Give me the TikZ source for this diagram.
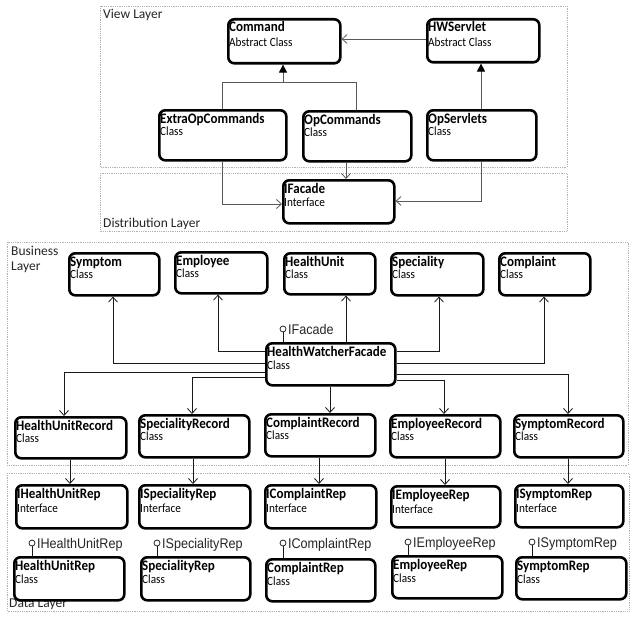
\documentclass[tikz,border=0pt]{standalone}
\usepackage{fontspec}
\newfontfamily\calfont[FakeStretch=0.9]{Carlito}
\newfontfamily\laufont{Carlito}
\newfontfamily\arifont[FakeStretch=0.9]{Liberation Sans}
\usetikzlibrary{arrows.meta}
\tikzset{
 box/.style={draw=black, line width=2.6pt, rounded corners=6pt, inner sep=0pt, fill=white},
 ttl/.style={font=\calfont\bfseries\fontsize{14.5}{16}\selectfont, inner sep=0pt},
 sub/.style={font=\calfont\fontsize{12.5}{14}\selectfont, inner sep=0pt},
 layer/.style={draw=black!30, densely dotted, line width=0.8pt},
 laytxt/.style={font=\laufont\fontsize{13.5}{15}\selectfont, text=black!85, inner sep=0pt},
 lolli/.style={font=\arifont\fontsize{14}{16}\selectfont, inner sep=0pt, text=black!85},
 lcirc/.style={circle, draw=black!85, line width=0.8pt, minimum size=6pt, inner sep=0pt},
 conn/.style={line width=0.8pt, draw=black!90},
 vconn/.style={line width=0.8pt, draw=black!65},
 openarr/.style={-{Straight Barb[length=5pt,width=9pt]}},
 genarr/.style={-{Triangle[length=8pt,width=8pt,fill=black,color=black]}},
}
% \umlbox{name}{x}{y}{w}{h}{title}{subtitle}{subtitle offset}
\newcommand{\umlbox}[8]{%
 \node[box, minimum width=#4pt, minimum height=#5pt, anchor=north west] (#1) at (#2,#3) {};
 \node[ttl, anchor=base west] (#1t) at ([xshift=2pt,yshift=-14pt]#1.north west) {#6};
 \node[sub, anchor=base west] (#1s) at ([xshift=2pt,yshift=-#8pt]#1.north west) {#7};
}
\newcommand{\ifbox}[6]{%
 \node[box, minimum width=#4pt, minimum height=#5pt, anchor=north west] (#1) at (#2,#3) {};
 \node[ttl, anchor=base west] (#1t) at ([xshift=2pt,yshift=-14pt]#1.north west) {#6};
 \begin{scope}
  \clip ([xshift=2pt,yshift=-18pt]#1.north west) rectangle ([xshift=-3pt,yshift=-27pt]#1.north east);
  \node[sub, anchor=base west] (#1s) at ([xshift=2pt,yshift=-28.5pt]#1.north west) {Interface};
 \end{scope}
}
\newcommand{\lollipop}[4]{%
 \node[lcirc] (#1) at (#2,#3) {};
 \node[lolli, anchor=base west] (#1t) at ([xshift=1.5pt,yshift=-5.5pt]#1.east) {#4};
}
\begin{document}
\begin{tikzpicture}[x=1pt,y=-1pt]
\useasboundingbox (0,0) rectangle (634,618);
\fill[white] (0,0) rectangle (634,618);

% layers
\draw[layer] (100,6) rectangle (567,167);
\draw[layer] (100,173) rectangle (567,231);
\draw[layer] (7,242) rectangle (628,465);
\draw[layer] (7,473) rectangle (629,611);
\node[laytxt, anchor=base west] (lview) at (103,19) {View Layer};
\node[laytxt, anchor=base west] (ldist) at (103,227) {Distribution Layer};
\node[laytxt, anchor=base west] (lbus1) at (11,255) {Business};
\node[laytxt, anchor=base west] (lbus2) at (11,270) {Layer};
\node[laytxt, anchor=base west] (ldata) at (9,607) {Data Layer};

% view layer
\umlbox{cmd}{227}{18}{112}{44}{Command}{Abstract Class}{29}
\umlbox{hws}{426}{18}{112}{43}{HWServlet}{Abstract Class}{29}
\umlbox{extra}{158}{109}{127}{50}{ExtraOpCommands}{Class}{26}
\umlbox{opc}{302}{110}{108}{50}{OpCommands}{Class}{26}
\umlbox{ops}{426}{109}{109}{50}{OpServlets}{Class}{26}
\umlbox{ifac}{282}{179}{111}{43}{IFacade}{Interface}{27}

% business layer
\umlbox{sym}{68}{252}{90}{42}{Symptom}{Class}{26}
\umlbox{emp}{174}{251}{92}{41}{Employee}{Class}{26}
\umlbox{hu}{283}{252}{91}{41}{HealthUnit}{Class}{26}
\umlbox{spe}{390}{252}{92}{42}{Speciality}{Class}{26}
\umlbox{cpl}{498}{252}{91}{42}{Complaint}{Class}{26}
\umlbox{hwf}{265}{342}{129}{42}{HealthWatcherFacade}{Class}{27}
\umlbox{hur}{14}{416}{111}{41}{HealthUnitRecord}{Class}{26}
\umlbox{sr}{138}{414}{110}{42}{SpecialityRecord}{Class}{26}
\umlbox{cr}{264}{413}{110}{42}{ComplaintRecord}{Class}{26}
\umlbox{er}{389}{414}{110}{42}{EmployeeRecord}{Class}{26}
\umlbox{syr}{513}{414}{109}{42}{SymptomRecord}{Class}{26}

% data layer
\ifbox{ihur}{15}{484}{111}{43}{IHealthUnitRep}
\ifbox{isr}{138}{484}{111}{43}{ISpecialityRep}
\ifbox{icr}{264}{484}{111}{43}{IComplaintRep}
\ifbox{ier}{390}{485}{109}{41}{IEmployeeRep}
\ifbox{isyr}{514}{484}{108}{42}{ISymptomRep}
\umlbox{hurep}{13}{556}{110}{43}{HealthUnitRep}{Class}{27}
\umlbox{srep}{140}{556}{109}{43}{SpecialityRep}{Class}{27}
\umlbox{crep}{265}{558}{109}{42}{ComplaintRep}{Class}{27}
\umlbox{erep}{391}{555}{110}{42}{EmployeeRep}{Class}{27}
\umlbox{syrep}{515}{556}{110}{42}{SymptomRep}{Class}{27}

% lollipops
\lollipop{lpfac}{283}{329}{IFacade}
\lollipop{lphur}{32}{543}{IHealthUnitRep}
\lollipop{lpsr}{157}{543}{ISpecialityRep}
\lollipop{lpcr}{283}{543}{IComplaintRep}
\lollipop{lper}{408}{542}{IEmployeeRep}
\lollipop{lpsyr}{532}{542}{ISymptomRep}
\draw[conn] (lpfac.south) -- (lpfac.south |- hwf.north);
\draw[conn] (lphur.south) -- (lphur.south |- hurep.north);
\draw[conn] (lpsr.south) -- (lpsr.south |- srep.north);
\draw[conn] (lpcr.south) -- (lpcr.south |- crep.north);
\draw[conn] (lper.south) -- (lper.south |- erep.north);
\draw[conn] (lpsyr.south) -- (lpsyr.south |- syrep.north);

% view connectors
\draw[vconn, openarr] (hws.west |- 0,39) -- (cmd.east |- 0,39);
\coordinate (jl) at (222,82);
\coordinate (jr) at (356,82);
\coordinate (jm) at (283,82);
\draw[vconn] (jl |- extra.north) -- (jl) -- (jr) -- (jr |- opc.north);
\draw[vconn, genarr] (jm) -- (jm |- cmd.south);
\draw[vconn, genarr] (481,0 |- ops.north) -- (481,0 |- hws.south);
\draw[vconn, openarr] (222,0 |- extra.south) -- (222,204) -- (ifac.west |- 0,204);
\draw[vconn, openarr] (346,0 |- opc.south) -- (346,0 |- ifac.north);
\draw[vconn, openarr] (481,0 |- ops.south) -- (481,201) -- (ifac.east |- 0,201);

% business connectors
\draw[conn, openarr] (hwf.west |- 0,363) -- (113,363) -- (113,0 |- sym.south);
\draw[conn, openarr] (hwf.west |- 0,351) -- (218,351) -- (218,0 |- emp.south);
\draw[conn, openarr] (346,0 |- hwf.north) -- (346,0 |- hu.south);
\draw[conn, openarr] (hwf.east |- 0,351) -- (439,351) -- (439,0 |- spe.south);
\draw[conn, openarr] (hwf.east |- 0,363) -- (544,363) -- (544,0 |- cpl.south);
\draw[conn, openarr] (hwf.west |- 0,372) -- (64,372) -- (64,0 |- hur.north);
\draw[conn, openarr] (hwf.west |- 0,377) -- (192,377) -- (192,0 |- sr.north);
\draw[conn, openarr] (330,0 |- hwf.south) -- (330,0 |- cr.north);
\draw[conn, openarr] (hwf.east |- 0,380) -- (444,380) -- (444,0 |- er.north);
\draw[conn, openarr] (hwf.east |- 0,374) -- (568,374) -- (568,0 |- syr.north);

% record to repository interfaces
\draw[conn, openarr] (70,0 |- hur.south) -- (70,0 |- ihur.north);
\draw[conn, openarr] (193,0 |- sr.south) -- (193,0 |- isr.north);
\draw[conn, openarr] (319,0 |- cr.south) -- (319,0 |- icr.north);
\draw[conn, openarr] (445,0 |- er.south) -- (445,0 |- ier.north);
\draw[conn, openarr] (568,0 |- syr.south) -- (568,0 |- isyr.north);
\end{tikzpicture}
\end{document}
